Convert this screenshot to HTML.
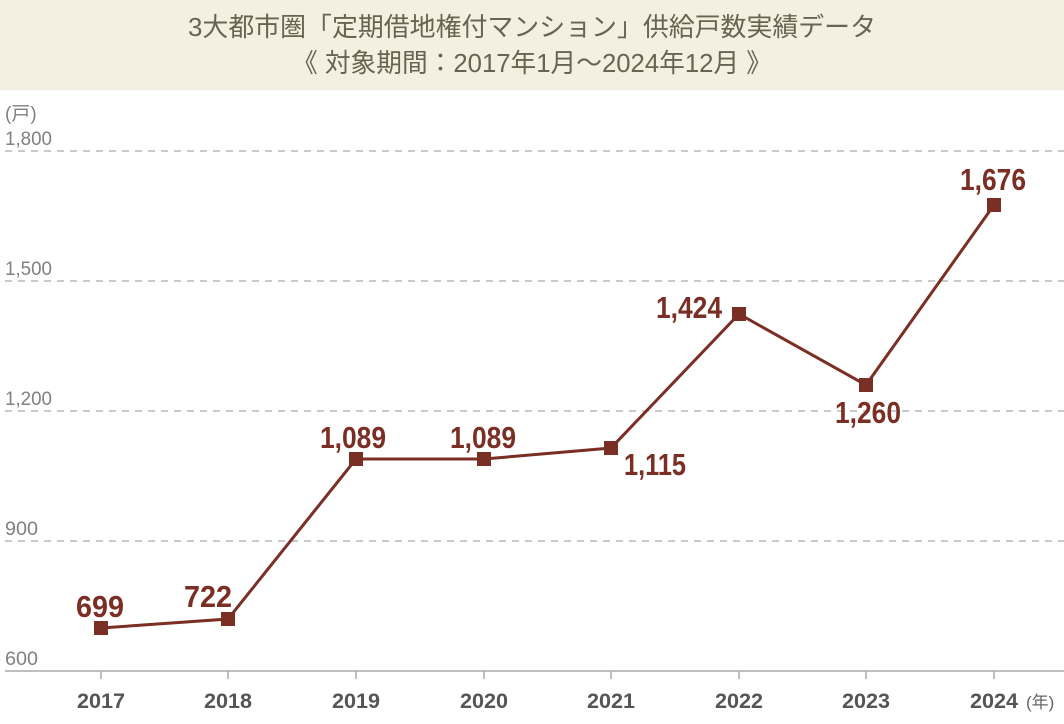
<!DOCTYPE html>
<html><head><meta charset="utf-8"><style>
html,body{margin:0;padding:0;background:#fff;}
svg{display:block;}
</style></head><body>
<svg width="1064" height="724" viewBox="0 0 1064 724" xmlns="http://www.w3.org/2000/svg" font-family="'Liberation Sans','Noto Sans CJK JP',sans-serif">
<rect x="0" y="0" width="1064" height="90" fill="#f3f0e2"/>
<text x="532" y="36" text-anchor="middle" font-size="26" fill="#6a6350" textLength="688" lengthAdjust="spacingAndGlyphs">3大都市圏「定期借地権付マンション」供給戸数実績データ</text>
<text x="532" y="72" text-anchor="middle" font-size="26" fill="#6a6350" textLength="480" lengthAdjust="spacingAndGlyphs">《 対象期間：2017年1月～2024年12月 》</text>
<g fill="#808080" font-size="19">
<text x="5" y="120">(戸)</text>
<text x="5" y="145" textLength="47" lengthAdjust="spacingAndGlyphs">1,800</text>
<text x="5" y="275" textLength="47" lengthAdjust="spacingAndGlyphs">1,500</text>
<text x="5" y="405" textLength="47" lengthAdjust="spacingAndGlyphs">1,200</text>
<text x="5" y="535" textLength="33" lengthAdjust="spacingAndGlyphs">900</text>
<text x="5" y="665" textLength="33" lengthAdjust="spacingAndGlyphs">600</text>
</g>
<g stroke="#aaa" stroke-width="1.3" stroke-dasharray="7,6">
<line x1="5" y1="151" x2="1064" y2="151"/>
<line x1="5" y1="281" x2="1064" y2="281"/>
<line x1="5" y1="411" x2="1064" y2="411"/>
<line x1="5" y1="541" x2="1064" y2="541"/>
</g>
<line x1="5" y1="671" x2="1064" y2="671" stroke="#aaa" stroke-width="1.5"/>
<g stroke="#aaa" stroke-width="1.5">
<line x1="101" y1="671" x2="101" y2="679"/><line x1="228" y1="671" x2="228" y2="679"/>
<line x1="356" y1="671" x2="356" y2="679"/><line x1="484" y1="671" x2="484" y2="679"/>
<line x1="611" y1="671" x2="611" y2="679"/><line x1="739" y1="671" x2="739" y2="679"/>
<line x1="866" y1="671" x2="866" y2="679"/><line x1="994" y1="671" x2="994" y2="679"/>
</g>
<g fill="#555" font-size="21" font-weight="bold" text-anchor="middle">
<text x="101" y="708" textLength="48" lengthAdjust="spacingAndGlyphs">2017</text>
<text x="228" y="708" textLength="48" lengthAdjust="spacingAndGlyphs">2018</text>
<text x="356" y="708" textLength="48" lengthAdjust="spacingAndGlyphs">2019</text>
<text x="484" y="708" textLength="48" lengthAdjust="spacingAndGlyphs">2020</text>
<text x="611" y="708" textLength="48" lengthAdjust="spacingAndGlyphs">2021</text>
<text x="739" y="708" textLength="48" lengthAdjust="spacingAndGlyphs">2022</text>
<text x="866" y="708" textLength="48" lengthAdjust="spacingAndGlyphs">2023</text>
<text x="994" y="708" textLength="48" lengthAdjust="spacingAndGlyphs">2024</text>
</g>
<text x="1026" y="708" fill="#666" font-size="17">(年)</text>
<polyline fill="none" stroke="#7b2e24" stroke-width="3" points="101,628 228,619 356,459 484,459 611,448 739,314 866,385 994,205"/>
<g fill="#7b2e24">
<rect x="94" y="621" width="14" height="14"/><rect x="221" y="612" width="14" height="14"/>
<rect x="349" y="452" width="14" height="14"/><rect x="477" y="452" width="14" height="14"/>
<rect x="604" y="441" width="14" height="14"/><rect x="732" y="307" width="14" height="14"/>
<rect x="859" y="378" width="14" height="14"/><rect x="987" y="198" width="14" height="14"/>
</g>
<g fill="#7b2e24" font-size="31" font-weight="bold" text-anchor="middle">
<text x="100" y="617" textLength="48" lengthAdjust="spacingAndGlyphs">699</text>
<text x="208" y="607" textLength="48" lengthAdjust="spacingAndGlyphs">722</text>
<text x="353" y="448" textLength="66" lengthAdjust="spacingAndGlyphs">1,089</text>
<text x="483" y="448" textLength="66" lengthAdjust="spacingAndGlyphs">1,089</text>
<text x="655" y="475" textLength="62" lengthAdjust="spacingAndGlyphs">1,115</text>
<text x="689" y="318" textLength="66" lengthAdjust="spacingAndGlyphs">1,424</text>
<text x="868" y="423" textLength="66" lengthAdjust="spacingAndGlyphs">1,260</text>
<text x="993" y="190" textLength="66" lengthAdjust="spacingAndGlyphs">1,676</text>
</g>
</svg>
</body></html>
